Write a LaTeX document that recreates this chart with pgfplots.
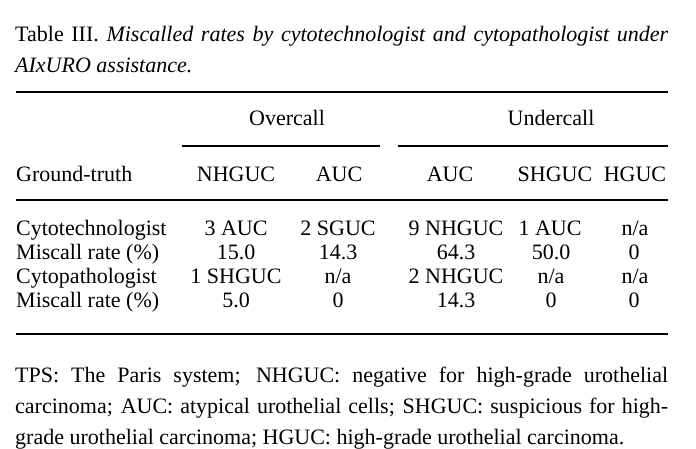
\documentclass[border=0pt]{standalone}
\usepackage{fontspec}
\setmainfont{Liberation Serif}
\usepackage{pgfplots}
\pgfplotsset{compat=1.18}
\begin{document}
\fontsize{22bp}{26bp}\selectfont
\begin{tikzpicture}
\begin{axis}[
  hide axis, scale only axis,
  width=696bp, height=449bp,
  xmin=0, xmax=696, ymin=0, ymax=449,
  y dir=reverse, clip=false,
]
\path (axis cs:0,0) rectangle (axis cs:696,449);
% rules
\addplot[black, line width=1.6bp] coordinates {(16,92) (668,92)};
\addplot[black, line width=1.2bp] coordinates {(182,146) (380,146)};
\addplot[black, line width=1.2bp] coordinates {(398,146) (668,146)};
\addplot[black, line width=1.2bp] coordinates {(16,200) (668,200)};
\addplot[black, line width=1.6bp] coordinates {(16,334) (668,334)};
% caption
\node[anchor=base west, inner sep=0] at (axis cs:15,42) {\makebox[653bp][s]{Table III. \itshape Miscalled rates by cytotechnologist and cytopathologist under}};
\node[anchor=base west, inner sep=0] at (axis cs:15,73) {\itshape AIxURO assistance\/.};
% header
\node[anchor=base, inner sep=0] at (axis cs:287,125) {Overcall};
\node[anchor=base, inner sep=0] at (axis cs:551,125) {Undercall};
\node[anchor=base west, inner sep=0] at (axis cs:16,181) {Ground-truth};
\node[anchor=base, inner sep=0] at (axis cs:236,181) {NHGUC};
\node[anchor=base, inner sep=0] at (axis cs:339,181) {AUC};
\node[anchor=base, inner sep=0] at (axis cs:450,181) {AUC};
\node[anchor=base, inner sep=0] at (axis cs:555,181) {SHGUC};
\node[anchor=base, inner sep=0] at (axis cs:635,181) {HGUC};
% body
\node[anchor=base west, inner sep=0] at (axis cs:16,235) {Cytotechnologist};
\node[anchor=base west, inner sep=0] at (axis cs:16,259) {Miscall rate (\%)};
\node[anchor=base west, inner sep=0] at (axis cs:16,283) {Cytopathologist};
\node[anchor=base west, inner sep=0] at (axis cs:16,307) {Miscall rate (\%)};
\node[anchor=base, inner sep=0] at (axis cs:236,235) {3 AUC};
\node[anchor=base, inner sep=0] at (axis cs:338,235) {2 SGUC};
\node[anchor=base, inner sep=0] at (axis cs:456,235) {9 NHGUC};
\node[anchor=base, inner sep=0] at (axis cs:550,235) {1 AUC};
\node[anchor=base, inner sep=0] at (axis cs:635,235) {n/a};
\node[anchor=base, inner sep=0] at (axis cs:236,259) {15.0};
\node[anchor=base, inner sep=0] at (axis cs:338,259) {14.3};
\node[anchor=base, inner sep=0] at (axis cs:456,259) {64.3};
\node[anchor=base, inner sep=0] at (axis cs:551,259) {50.0};
\node[anchor=base, inner sep=0] at (axis cs:634,259) {0};
\node[anchor=base, inner sep=0] at (axis cs:236,283) {1 SHGUC};
\node[anchor=base, inner sep=0] at (axis cs:338,283) {n/a};
\node[anchor=base, inner sep=0] at (axis cs:456,283) {2 NHGUC};
\node[anchor=base, inner sep=0] at (axis cs:551,283) {n/a};
\node[anchor=base, inner sep=0] at (axis cs:635,283) {n/a};
\node[anchor=base, inner sep=0] at (axis cs:236,307) {5.0};
\node[anchor=base, inner sep=0] at (axis cs:338,307) {0};
\node[anchor=base, inner sep=0] at (axis cs:456,307) {14.3};
\node[anchor=base, inner sep=0] at (axis cs:551,307) {0};
\node[anchor=base, inner sep=0] at (axis cs:634,307) {0};
% footnote
\node[anchor=base west, inner sep=0] at (axis cs:15,382) {\makebox[653bp][s]{TPS: The Paris system; NHGUC: negative for high-grade urothelial}};
\node[anchor=base west, inner sep=0] at (axis cs:15,413) {\makebox[653bp][s]{carcinoma; AUC: atypical urothelial cells; SHGUC: suspicious for high-}};
\node[anchor=base west, inner sep=0] at (axis cs:15,444) {grade urothelial carcinoma; HGUC: high-grade urothelial carcinoma.};
\end{axis}
\end{tikzpicture}
\end{document}
